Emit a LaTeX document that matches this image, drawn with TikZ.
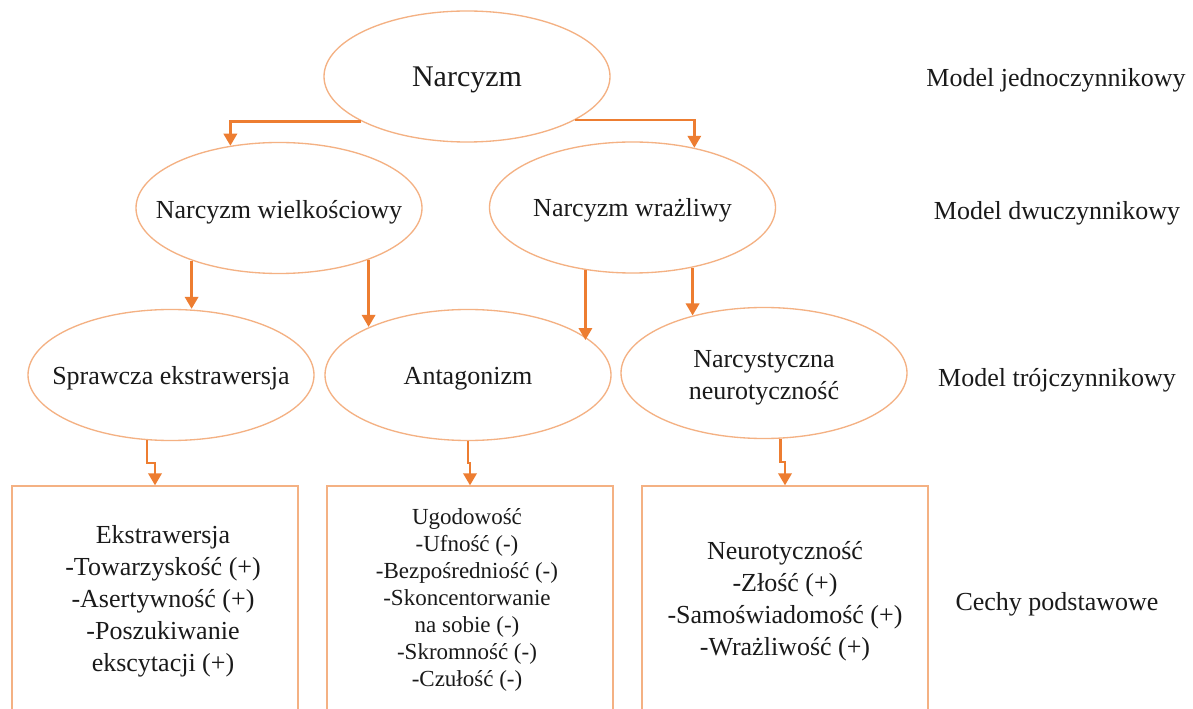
\documentclass[tikz,border=0pt]{standalone}
\usepackage{fontspec}
\setmainfont{Liberation Serif}
\usetikzlibrary{shapes.geometric,arrows.meta,calc}
\definecolor{arrowc}{HTML}{ED7D31}
\definecolor{edgec}{HTML}{F4B183}
\definecolor{txt}{HTML}{1A1A1A}
\begin{document}
\begin{tikzpicture}[x=0.75pt,y=-0.75pt,
  oval/.style={ellipse,draw=edgec,line width=1pt,minimum width=214.5pt,minimum height=98.25pt,inner sep=0pt},
  boxst/.style={rectangle,draw=edgec,line width=1pt,minimum width=214.5pt,minimum height=171.75pt,inner sep=0pt},
  lbl/.style={text=txt,font=\fontsize{19.5}{24}\selectfont,align=center,inner sep=0pt},
  small/.style={text=txt,font=\fontsize{17.25}{20.25}\selectfont,align=center,inner sep=0pt},
  big/.style={text=txt,font=\fontsize{22.5}{27}\selectfont,align=center,inner sep=0pt},
  arr/.style={draw=arrowc,line width=1.8pt,-{Triangle[width=10pt,length=9pt]},arrowc}
]
\useasboundingbox (0,0) rectangle (1193,709);
\fill[white] (0,0) rectangle (1193,709);

% ellipses
\node[oval] (narc) at (467,76.5) {};
\node[oval] (wiel) at (279,208) {};
\node[oval] (wraz) at (632.5,207.5) {};
\node[oval] (spr) at (171,375) {};
\node[oval] (ant) at (468,375) {};
\node[oval] (neu) at (764,373) {};

% boxes
\node[boxst] (box1) at (155,600.5) {};
\node[boxst] (box2) at (470,600.5) {};
\node[boxst] (box3) at (785,600.5) {};

% ellipse texts
\node[big] (narcT) at (467,80) {Narcyzm};
\node[lbl] (wielT) at (279,212) {Narcyzm wielkościowy};
\node[lbl] (wrazT) at (632.5,210) {Narcyzm wrażliwy};
\node[lbl] (sprT) at (171,378) {Sprawcza ekstrawersja};
\node[lbl] (antT) at (468,379) {Antagonizm};
\node[lbl] (neuT) at (764,378) {Narcystyczna\\neurotyczność};

% box texts
\node[lbl] (b1T) at (163,601) {Ekstrawersja\\-Towarzyskość (+)\\-Asertywność (+)\\-Poszukiwanie\\ekscytacji (+)};
\node[small] (b2T) at (467,600) {Ugodowość\\-Ufność (-)\\-Bezpośredniość (-)\\-Skoncentorwanie\\na sobie (-)\\-Skromność (-)\\-Czułość (-)};
\node[lbl] (b3T) at (785,601) {Neurotyczność\\-Złość (+)\\-Samoświadomość (+)\\-Wrażliwość (+)};

% row labels
\node[lbl] (m1) at (1056,80) {Model jednoczynnikowy};
\node[lbl] (m2) at (1057,213) {Model dwuczynnikowy};
\node[lbl] (m3) at (1057,380) {Model trójczynnikowy};
\node[lbl] (m4) at (1057,604) {Cechy podstawowe};

% connectors
\draw[arr] (narc.203.2) -| (wiel.128.5);
\draw[arr] (narc.338.3) -| (wraz.44.5);
\draw[arr] (wiel.211.9) -- (wiel.211.9 |- spr.north);
\draw[arr] (wiel.330.2) -- (wiel.330.2 |- ant.154.8);
\draw[arr] (wraz.233.7) -- (wraz.233.7 |- ant.16.8);
\draw[arr] (wraz.315.5) -- (wraz.315.5 |- neu.141.8);
\draw[arr] (spr.250.4) |- ($(spr.250.4)!.5!(box1.north)$) -| (box1.north);
\draw[arr] (ant.south) |- ($(ant.south)!.5!(box2.north)$) -| (box2.north);
\draw[arr] (neu.284.7) |- ($(neu.284.7)!.5!(box3.north)$) -| (box3.north);
\end{tikzpicture}
\end{document}
